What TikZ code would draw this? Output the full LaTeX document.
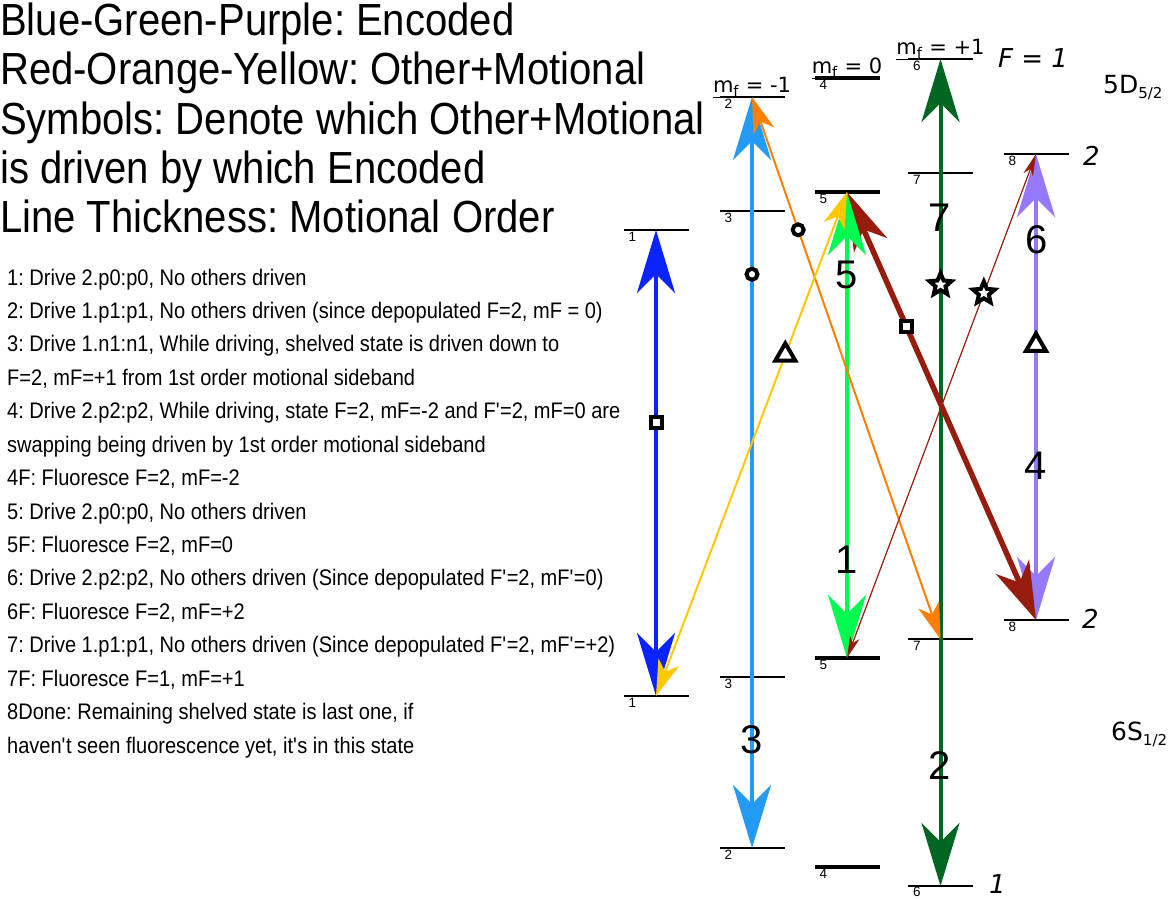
\documentclass[tikz,border=0pt]{standalone}
\usepackage{fontspec}
\setmainfont{Liberation Sans}
\newfontfamily\hdrfont[FakeStretch=0.89]{Liberation Sans}
\newfontfamily\lstfont[FakeStretch=0.89]{Liberation Sans}
\newfontfamily\dvfont{DejaVu Sans}
\usetikzlibrary{arrows.meta,calc,shapes.geometric}
\definecolor{cBlue}{RGB}{10,35,255}
\definecolor{cLBlue}{RGB}{35,155,245}
\definecolor{cGreen}{RGB}{0,250,80}
\definecolor{cDGreen}{RGB}{0,102,34}
\definecolor{cPurple}{RGB}{150,120,250}
\definecolor{cOrange}{RGB}{255,128,0}
\definecolor{cYellow}{RGB}{255,200,0}
\definecolor{cRed}{RGB}{150,28,14}
\frenchspacing
\begin{document}
\begin{tikzpicture}[x=1pt,y=-1pt,
  lev/.style={line width=1.6pt},
  levthk/.style={line width=3.2pt},
  lvnum/.style={font=\fontsize{13.5}{15}\selectfont, anchor=base west, inner sep=0pt},
  enc/.style={line width=4pt, arrows={Stealth[length=63pt,width=38pt,inset=19pt]-Stealth[length=63pt,width=38pt,inset=19pt]}},
  mid/.style={line width=2pt, arrows={Stealth[length=36pt,width=22pt,inset=10pt]-Stealth[length=36pt,width=22pt,inset=10pt]}},
  thk/.style={line width=5.5pt, arrows={Stealth[length=58pt,width=36pt,inset=17pt]-Stealth[length=58pt,width=36pt,inset=17pt]}},
  thn/.style={line width=1.2pt, arrows={Stealth[length=22pt,width=10pt,inset=6pt]-Stealth[length=22pt,width=10pt,inset=6pt]}},
  num/.style={font=\fontsize{40}{44}\selectfont, inner sep=0pt},
  mflab/.style={font=\dvfont\fontsize{21}{24}\selectfont, anchor=base, inner sep=0pt},
  flab/.style={font=\dvfont\itshape\fontsize{26}{30}\selectfont, anchor=base west, inner sep=0pt},
  term/.style={font=\dvfont\fontsize{25}{30}\selectfont, anchor=base west, inner sep=0pt},
  hdr/.style={font=\hdrfont\fontsize{45}{50}\selectfont, anchor=base west, inner sep=0pt},
  lst/.style={font=\lstfont\fontsize{22.5}{26}\selectfont, anchor=base west, inner sep=0pt},
  sym/.style={draw=black, fill=white, line width=4pt, inner sep=0pt},
  symcirc/.style={sym, circle, minimum size=11pt},
  symsq/.style={sym, rectangle, minimum size=11pt},
  symtri/.style={sym, regular polygon, regular polygon sides=3, minimum size=23pt},
  symstar/.style={sym, star, star points=5, star point ratio=2.2, minimum size=23pt}
]
\useasboundingbox (0,0) rectangle (1169,898);

% level positions
\coordinate (U1) at (656,230);
\coordinate (U2) at (752,97);
\coordinate (U3) at (752,211);
\coordinate (U4) at (847,78);
\coordinate (U5) at (847,192);
\coordinate (U6) at (940.5,59);
\coordinate (U7) at (940.5,173);
\coordinate (U8) at (1036,154);
\coordinate (L1) at (656,696);
\coordinate (L3) at (752,677);
\coordinate (L5) at (847,658);
\coordinate (L7) at (940.5,639);
\coordinate (L8) at (1036,620);
\coordinate (L2) at (752,848);
\coordinate (L4) at (847,867);
\coordinate (L6) at (940.5,886);

% level lines
\foreach \c in {U1,U2,U3,U6,U7,U8,L1,L3,L7,L8,L2,L6}
  \draw[lev] (\c) ++(-32.5,0) -- ++(65,0);
\foreach \c in {U4,U5,L5,L4}
  \draw[levthk] (\c) ++(-32.5,0) -- ++(65,0);

% level numbers
\foreach \c/\t in {U1/1,U2/2,U3/3,U4/4,U5/5,U6/6,U7/7,U8/8,L1/1,L3/3,L5/5,L7/7,L8/8,L2/2,L4/4}
  \node[lvnum] (n\c) at ($(\c)+(-27.5,11.5)$) {\t};
\node[lvnum] (nL6) at ($(L6)+(-27.5,10)$) {6};

% m_f labels
\node[mflab] (mf1) at ($(U2)+(0,-5)$) {\underline{m\textsubscript{f}} = -1};
\node[mflab] (mf2) at ($(U4)+(0,-5)$) {\underline{m\textsubscript{f}} = 0};
\node[mflab] (mf3) at ($(U6)+(0,-5)$) {\underline{m\textsubscript{f}} = +1};

% F labels and terms
\node[flab] (F1) at (998,67) {F = 1};
\node[flab] (F2u) at (1083,165) {2};
\node[flab] (F2l) at (1082,628) {2};
\node[flab] (F1l) at (989,893) {1};
\node[term] (D52) at (1103,93) {5D{\fontsize{15}{15}\selectfont\raisebox{-5pt}{5/2}}};
\node[term] (S12) at (1111,740) {6S{\fontsize{15}{15}\selectfont\raisebox{-5pt}{1/2}}};

% encoded transitions and other+motional
\draw[enc, cBlue] (U1) -- (L1);
\draw[enc, cLBlue] (U2) -- (L2);
\draw[enc, cPurple] (U8) -- (L8);
\draw[enc, cDGreen] (U6) -- (L6);
\draw[thk, cRed] (U5) -- (L8);
\draw[enc, cGreen] (U5) -- (L5);
\draw[mid, cOrange] (U2) -- (L7);
\draw[mid, cYellow] (L1) -- (U5);
\draw[thn, cRed] (L5) -- (U8);

% symbols
\node[symcirc] (s1) at ($(U2)!0.236!(L2)$) {};
\node[symcirc] (s2) at ($(U2)!0.245!(L7)$) {};
\node[symtri] (s3) at ($(L1)!0.677!(U5)$) {};
\node[symsq] (s4) at ($(U1)!0.412!(L1)$) {};
\node[symsq] (s5) at ($(U5)!0.315!(L8)$) {};
\node[symstar] (s6) at ($(U6)!0.273!(L6)$) {};
\node[symstar] (s7) at ($(L5)!0.724!(U8)$) {};
\node[symtri] (s8) at ($(U8)!0.41!(L8)$) {};

% step numbers
\node[num] (d3) at (752,740) {3};
\node[num] (d2) at (940,766) {2};
\node[num] (d5) at (847,275) {5};
\node[num] (d1) at (847,560) {1};
\node[num] (d7) at (940,218) {7};
\node[num] (d6) at (1037,240) {6};
\node[num] (d4) at (1036,466) {4};

% header
\node[hdr] (h1) at (0,35) {Blue-Green-Purple: Encoded};
\node[hdr] (h2) at (0,84.5) {Red-Orange-Yellow: Other+Motional};
\node[hdr] (h3) at (0,134) {Symbols: Denote which Other+Motional};
\node[hdr] (h4) at (0,183) {is driven by which Encoded};
\node[hdr] (h5) at (0,232) {Line Thickness: Motional Order};

% list
\node[lst] (t1) at (7,285) {1: Drive 2.p0:p0, No others driven};
\node[lst] (t2) at (7,318.4) {2: Drive 1.p1:p1, No others driven (since depopulated F=2, mF = 0)};
\node[lst] (t3) at (7,351.9) {3: Drive 1.n1:n1, While driving, shelved state is driven down to};
\node[lst] (t4) at (7,385.3) {F=2, mF=+1 from 1st order motional sideband};
\node[lst] (t5) at (7,418.7) {4: Drive 2.p2:p2, While driving, state F=2, mF=-2 and F\textquotesingle=2, mF=0 are};
\node[lst] (t6) at (7,452.2) {swapping being driven by 1st order motional sideband};
\node[lst] (t7) at (7,485.6) {4F: Fluoresce F=2, mF=-2};
\node[lst] (t8) at (7,519) {5: Drive 2.p0:p0, No others driven};
\node[lst] (t9) at (7,552.4) {5F: Fluoresce F=2, mF=0};
\node[lst] (t10) at (7,585.9) {6: Drive 2.p2:p2, No others driven (Since depopulated F\textquotesingle=2, mF\textquotesingle=0)};
\node[lst] (t11) at (7,619.3) {6F: Fluoresce F=2, mF=+2};
\node[lst] (t12) at (7,652.7) {7: Drive 1.p1:p1, No others driven (Since depopulated F\textquotesingle=2, mF\textquotesingle=+2)};
\node[lst] (t13) at (7,686.2) {7F: Fluoresce F=1, mF=+1};
\node[lst] (t14) at (7,719.6) {8Done: Remaining shelved state is last one, if};
\node[lst] (t15) at (7,753) {haven\textquotesingle t seen fluorescence yet, it\textquotesingle s in this state};
\end{tikzpicture}
\end{document}
